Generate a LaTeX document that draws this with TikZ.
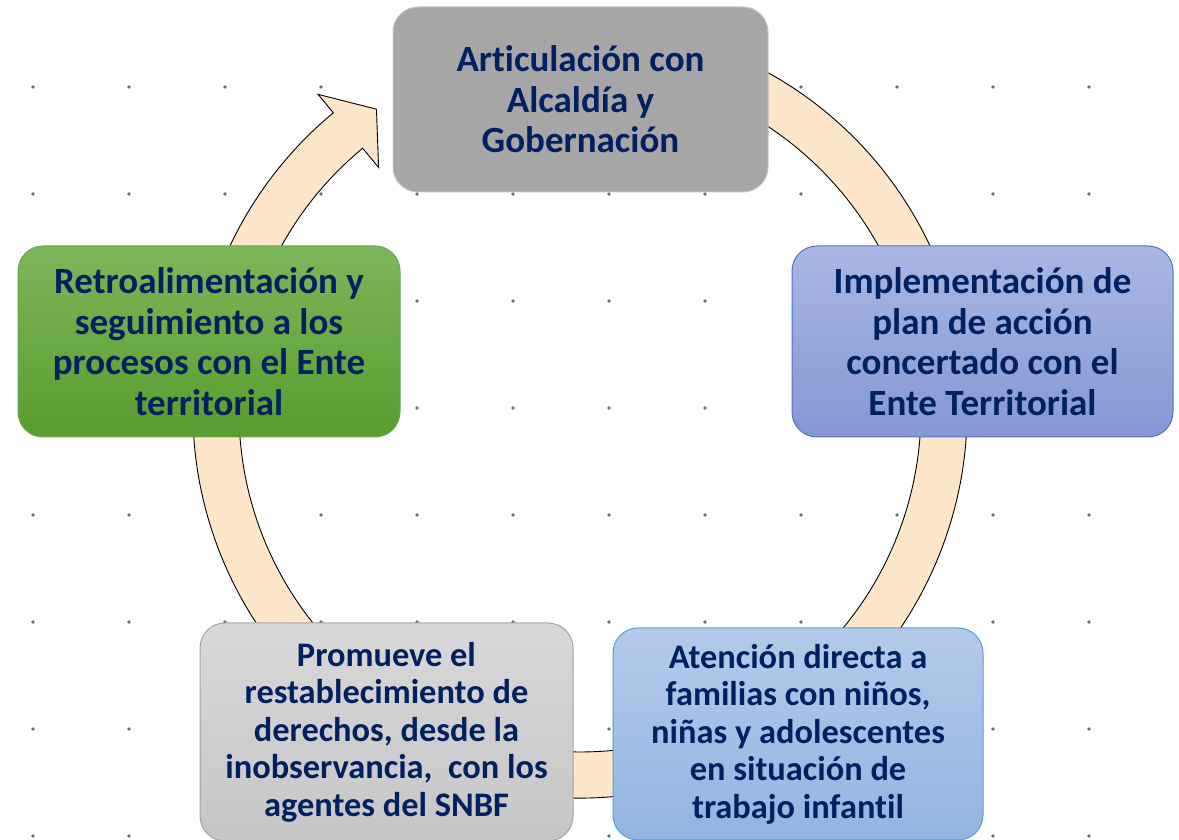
\documentclass[tikz,border=0pt]{standalone}
\usepackage{fontspec}
\setmainfont[Ligatures={NoCommon}]{Carlito}
\definecolor{navy}{HTML}{002060}
\definecolor{dotc}{HTML}{4E7F68}
\definecolor{ringfill}{HTML}{FEE6CA}
\definecolor{gtop}{HTML}{A6A6A6}
\definecolor{gline}{HTML}{C4C4C4}
\definecolor{btop}{HTML}{AAB7E2}
\definecolor{bbot}{HTML}{8597D4}
\definecolor{bline}{HTML}{4A76C6}
\definecolor{ltop}{HTML}{7DB65A}
\definecolor{lbot}{HTML}{5A9C2E}
\definecolor{lline}{HTML}{6AA84F}
\definecolor{sgtop}{HTML}{D8D8D8}
\definecolor{sgbot}{HTML}{C6C6C6}
\definecolor{sgline}{HTML}{A3A3A3}
\definecolor{lbtop}{HTML}{B4CAEA}
\definecolor{lbbot}{HTML}{93B4E1}
\definecolor{lbline}{HTML}{5B9BD5}
\begin{document}
\begin{tikzpicture}[x=1pt,y=1pt,
  cbox/.style={rounded corners=25pt, line width=1pt, inner sep=0pt,
    text=navy, align=center, font=\bfseries\fontsize{37}{40.5}\selectfont},
  tight/.style={font=\bfseries\fontsize{34.4}{37.5}\selectfont},
  ring/.style={fill=ringfill, draw=black, line width=0.9pt, line join=miter}]
\useasboundingbox (0,0) rectangle (1179,840);
\clip (0,0) rectangle (1179,840);
% dot grid
\foreach \k in {0,...,11}{
  \foreach \j in {0,...,7}{
    \fill[dotc] ({33+96*\k},{840-87-107*\j}) circle (1.8);
  }
}
% circular arrow
\begin{scope}[shift={(580,429)}]
\draw[ring] (70:387) arc[start angle=70,end angle=-230.4,radius=387]
  -- (-230.4:411) -- (-236:364) -- (-230.4:316) -- (-230.4:341)
  arc[start angle=-230.4,end angle=70,radius=341] -- cycle;
\end{scope}
% boxes
\node[cbox, draw=gline, fill=gtop, minimum width=375pt, minimum height=185pt]
  (art) at (580.5,740.5) {Articulación con\\Alcaldía y\\Gobernación};
\node[cbox, draw=bline, top color=btop, bottom color=bbot, minimum width=381pt, minimum height=191pt]
  (imp) at (982.5,498.5) {Implementación de\\plan de acción\\concertado con el\\Ente Territorial};
\node[cbox, tight, draw=lbline, top color=lbtop, bottom color=lbbot, minimum width=370pt, minimum height=212pt]
  (ate) at (798,106) {Atención directa a\\familias con niños,\\niñas y adolescentes\\en situación de\\trabajo infantil};
\node[cbox, tight, draw=sgline, top color=sgtop, bottom color=sgbot, minimum width=373pt, minimum height=218pt]
  (pro) at (386.5,108) {Promueve el\\restablecimiento de\\derechos, desde la\\inobservancia,\ \ con los\\agentes del SNBF};
\node[cbox, draw=lline, top color=ltop, bottom color=lbot, minimum width=382pt, minimum height=191pt]
  (ret) at (209,498.5) {Retroalimentación y\\seguimiento a los\\procesos con el Ente\\territorial};
\end{tikzpicture}
\end{document}
